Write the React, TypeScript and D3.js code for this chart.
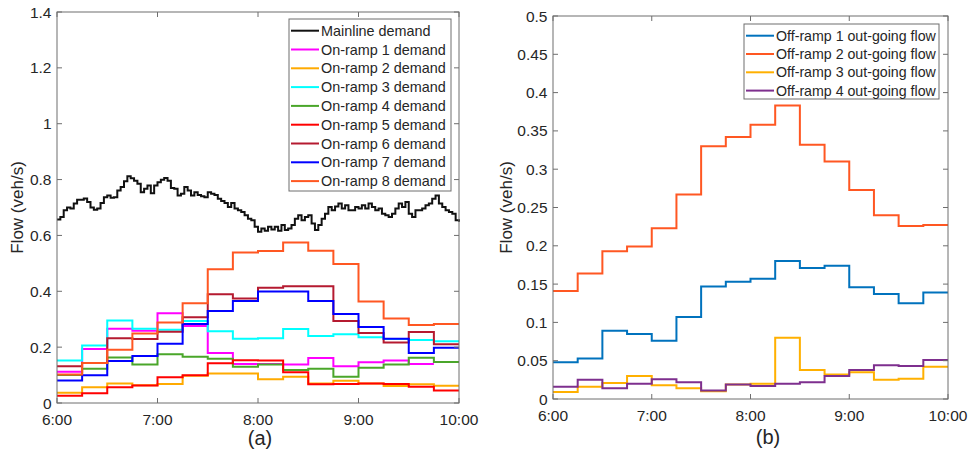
import React from "react";
import * as d3 from "d3";

// x positions are minutes after 6:00
const xTickLabels = ["6:00", "7:00", "8:00", "9:00", "10:00"];
const xTickMinutes = [0, 60, 120, 180, 240];

// mainline demand, one reading every 2 minutes from 6:00 to 10:00
const mainlineDemand = [
  0.657, 0.666, 0.69, 0.70, 0.696, 0.714, 0.728, 0.728, 0.732, 0.72,
  0.70, 0.692, 0.696, 0.716, 0.737, 0.743, 0.735, 0.737, 0.761, 0.773,
  0.794, 0.812, 0.805, 0.796, 0.785, 0.755, 0.767, 0.779, 0.751, 0.779,
  0.79, 0.799, 0.806, 0.796, 0.77, 0.767, 0.743, 0.749, 0.773, 0.761,
  0.743, 0.755, 0.745, 0.74, 0.737, 0.755, 0.749, 0.745, 0.731, 0.723,
  0.716, 0.702, 0.716, 0.696, 0.69, 0.684, 0.672, 0.66, 0.654, 0.631,
  0.613, 0.625, 0.617, 0.631, 0.621, 0.631, 0.617, 0.637, 0.619, 0.625,
  0.637, 0.66, 0.672, 0.654, 0.666, 0.672, 0.643, 0.619, 0.637, 0.66,
  0.678, 0.702, 0.69, 0.704, 0.714, 0.696, 0.708, 0.69, 0.69, 0.702,
  0.696, 0.708, 0.696, 0.714, 0.702, 0.69, 0.696, 0.678, 0.672, 0.666,
  0.678, 0.696, 0.714, 0.702, 0.72, 0.678, 0.666, 0.69, 0.69, 0.696,
  0.708, 0.714, 0.731, 0.743, 0.714, 0.702, 0.69, 0.684, 0.678, 0.654,
  0.649,
];

// 15-minute demands starting at 6:00
const onRamp1 = [0.112, 0.193, 0.266, 0.259, 0.321, 0.276, 0.179, 0.14, 0.14, 0.138, 0.161, 0.132, 0.146, 0.152, 0.14];
const onRamp2 = [0.037, 0.056, 0.07, 0.064, 0.068, 0.098, 0.106, 0.106, 0.085, 0.094, 0.07, 0.08, 0.07, 0.061, 0.067, 0.062];
const onRamp3 = [0.152, 0.206, 0.295, 0.266, 0.262, 0.294, 0.257, 0.23, 0.232, 0.265, 0.24, 0.246, 0.235, 0.229, 0.226, 0.221];
const onRamp4 = [0.1, 0.123, 0.163, 0.138, 0.175, 0.166, 0.158, 0.13, 0.138, 0.118, 0.123, 0.094, 0.126, 0.138, 0.162, 0.147];
const onRamp5 = [0.026, 0.035, 0.056, 0.063, 0.092, 0.099, 0.142, 0.153, 0.152, 0.11, 0.067, 0.068, 0.07, 0.068, 0.058, 0.045];
const onRamp6 = [0.132, 0.143, 0.232, 0.229, 0.255, 0.307, 0.389, 0.374, 0.413, 0.418, 0.418, 0.294, 0.251, 0.217, 0.254, 0.21];
const onRamp7 = [0.081, 0.099, 0.15, 0.168, 0.212, 0.283, 0.329, 0.365, 0.399, 0.399, 0.365, 0.319, 0.272, 0.23, 0.179, 0.198];
const onRamp8 = [0.102, 0.143, 0.191, 0.249, 0.288, 0.357, 0.479, 0.539, 0.544, 0.575, 0.545, 0.498, 0.363, 0.303, 0.279, 0.283];

const offRamp1 = [0.048, 0.053, 0.089, 0.085, 0.076, 0.107, 0.147, 0.153, 0.157, 0.18, 0.171, 0.174, 0.146, 0.137, 0.125, 0.139];
const offRamp2 = [0.141, 0.164, 0.193, 0.199, 0.223, 0.267, 0.33, 0.342, 0.358, 0.383, 0.332, 0.31, 0.273, 0.24, 0.226, 0.227];
const offRamp3 = [0.009, 0.016, 0.021, 0.03, 0.018, 0.014, 0.01, 0.019, 0.02, 0.08, 0.038, 0.032, 0.035, 0.025, 0.0265, 0.042];
const offRamp4 = [0.016, 0.025, 0.014, 0.02, 0.0257, 0.022, 0.011, 0.019, 0.017, 0.02, 0.022, 0.03, 0.038, 0.044, 0.043, 0.051];

const leftTicks = [0, 0.2, 0.4, 0.6, 0.8, 1, 1.2, 1.4];
const rightTicks = [0, 0.05, 0.1, 0.15, 0.2, 0.25, 0.3, 0.35, 0.4, 0.45, 0.5];

type Series = { name: string; color: string; values: number[]; step: number };

const leftSeries: Series[] = [
  { name: "Mainline demand", color: "#111111", values: mainlineDemand, step: 2 },
  { name: "On-ramp 1 demand", color: "#ff00ff", values: onRamp1, step: 15 },
  { name: "On-ramp 2 demand", color: "#ffaa00", values: onRamp2, step: 15 },
  { name: "On-ramp 3 demand", color: "#00ffff", values: onRamp3, step: 15 },
  { name: "On-ramp 4 demand", color: "#4aa62a", values: onRamp4, step: 15 },
  { name: "On-ramp 5 demand", color: "#ff0000", values: onRamp5, step: 15 },
  { name: "On-ramp 6 demand", color: "#b51a30", values: onRamp6, step: 15 },
  { name: "On-ramp 7 demand", color: "#0000ff", values: onRamp7, step: 15 },
  { name: "On-ramp 8 demand", color: "#ff5722", values: onRamp8, step: 15 },
];

const rightSeries: Series[] = [
  { name: "Off-ramp 1 out-going flow", color: "#0072bd", values: offRamp1, step: 15 },
  { name: "Off-ramp 2 out-going flow", color: "#ff5722", values: offRamp2, step: 15 },
  { name: "Off-ramp 3 out-going flow", color: "#ffb000", values: offRamp3, step: 15 },
  { name: "Off-ramp 4 out-going flow", color: "#7e2f8e", values: offRamp4, step: 15 },
];

const FONT = "'Liberation Sans', Arial, Helvetica, sans-serif";
const TXT = "#262626";

function toPoints(s: Series): [number, number][] {
  const pts: [number, number][] = s.values.map((v, i) => [i * s.step, v]);
  // stair series hold their last value for one more step
  if (s.step > 2) pts.push([s.values.length * s.step, s.values[s.values.length - 1]]);
  return pts;
}

type PanelProps = {
  left: number; right: number; top: number; bottom: number;
  yMax: number; yTicks: number[]; yFmt: (v: number) => string;
  series: Series[]; tickFont: number; label: string; labelX: number; labelY: number;
  xLabelY: number; yTitleX: number; legendFont: number;
  legend: { x: number; y: number; w: number; h: number; row: number; first: number };
};

function Panel(p: PanelProps) {
  const x = d3.scaleLinear().domain([0, 240]).range([p.left, p.right]);
  const y = d3.scaleLinear().domain([0, p.yMax]).range([p.bottom, p.top]);
  const line = d3
    .line<[number, number]>()
    .x((d) => x(d[0]))
    .y((d) => y(d[1]))
    .curve(d3.curveStepAfter);
  const tl = 5;
  return (
    <g>
      <rect x={p.left} y={p.top} width={p.right - p.left} height={p.bottom - p.top} fill="#fff" />
      <defs>
        <clipPath id={"clip" + p.label}>
          <rect x={p.left} y={p.top} width={p.right - p.left} height={p.bottom - p.top} />
        </clipPath>
      </defs>
      <g clipPath={`url(#clip${p.label})`}>
        {p.series.map((s) => (
          <path key={s.name} d={line(toPoints(s)) || ""} fill="none" stroke={s.color} strokeWidth={2} />
        ))}
      </g>
      <rect x={p.left} y={p.top} width={p.right - p.left} height={p.bottom - p.top} fill="none" stroke="#6e6e6e" strokeWidth={1} />
      {p.yTicks.map((t) => (
        <g key={"y" + t}>
          <line x1={p.left} x2={p.left + tl} y1={y(t)} y2={y(t)} stroke="#6e6e6e" />
          <line x1={p.right} x2={p.right - tl} y1={y(t)} y2={y(t)} stroke="#6e6e6e" />
          <text x={p.left - 5.5} y={y(t)} dy="0.36em" textAnchor="end" fontSize={p.tickFont} fill={TXT} fontFamily={FONT}>
            {p.yFmt(t)}
          </text>
        </g>
      ))}
      {xTickMinutes.map((m, i) => (
        <g key={"x" + m}>
          <line x1={x(m)} x2={x(m)} y1={p.bottom} y2={p.bottom - tl} stroke="#6e6e6e" />
          <line x1={x(m)} x2={x(m)} y1={p.top} y2={p.top + tl} stroke="#6e6e6e" />
          <text x={x(m)} y={p.xLabelY} textAnchor="middle" fontSize={p.tickFont} fill={TXT} fontFamily={FONT}>
            {xTickLabels[i]}
          </text>
        </g>
      ))}
      <text
        transform={`translate(${p.yTitleX},${(p.top + p.bottom) / 2}) rotate(-90)`}
        textAnchor="middle"
        fontSize={17}
        fill={TXT}
        fontFamily={FONT}
      >
        Flow (veh/s)
      </text>
      <text x={p.labelX} y={p.labelY} textAnchor="middle" fontSize={20} fill={TXT} fontFamily={FONT}>
        {p.label}
      </text>
      <rect x={p.legend.x} y={p.legend.y} width={p.legend.w} height={p.legend.h} fill="#fff" stroke="#6e6e6e" strokeWidth={1} />
      {p.series.map((s, i) => {
        const ly = p.legend.first + i * p.legend.row;
        return (
          <g key={"l" + s.name}>
            <line x1={p.legend.x + 2} x2={p.legend.x + 30} y1={ly} y2={ly} stroke={s.color} strokeWidth={2} />
            <text x={p.legend.x + 32} y={ly} dy="0.36em" fontSize={p.legendFont} fill={TXT} fontFamily={FONT}>
              {s.name}
            </text>
          </g>
        );
      })}
    </g>
  );
}

export default function App() {
  return (
    <svg width={971} height={455} style={{ position: "absolute", left: 0, top: 0, background: "#fff" }}>
      <rect width={971} height={455} fill="#fff" />
      <Panel
        left={57} right={459} top={12} bottom={403}
        yMax={1.4} yTicks={leftTicks} yFmt={(v) => d3.format("~g")(v)}
        series={leftSeries} tickFont={15.5} label="(a)" labelX={260} labelY={445}
        xLabelY={425} yTitleX={23} legendFont={14.4}
        legend={{ x: 289, y: 19, w: 162, h: 172, row: 18.8, first: 30.7 }}
      />
      <Panel
        left={553} right={948} top={16} bottom={399}
        yMax={0.5} yTicks={rightTicks} yFmt={(v) => d3.format("~g")(v)}
        series={rightSeries} tickFont={15.5} label="(b)" labelX={768} labelY={444}
        xLabelY={421} yTitleX={512} legendFont={14.2}
        legend={{ x: 744, y: 24, w: 195, h: 75, row: 18.3, first: 35.7 }}
      />
    </svg>
  );
}
